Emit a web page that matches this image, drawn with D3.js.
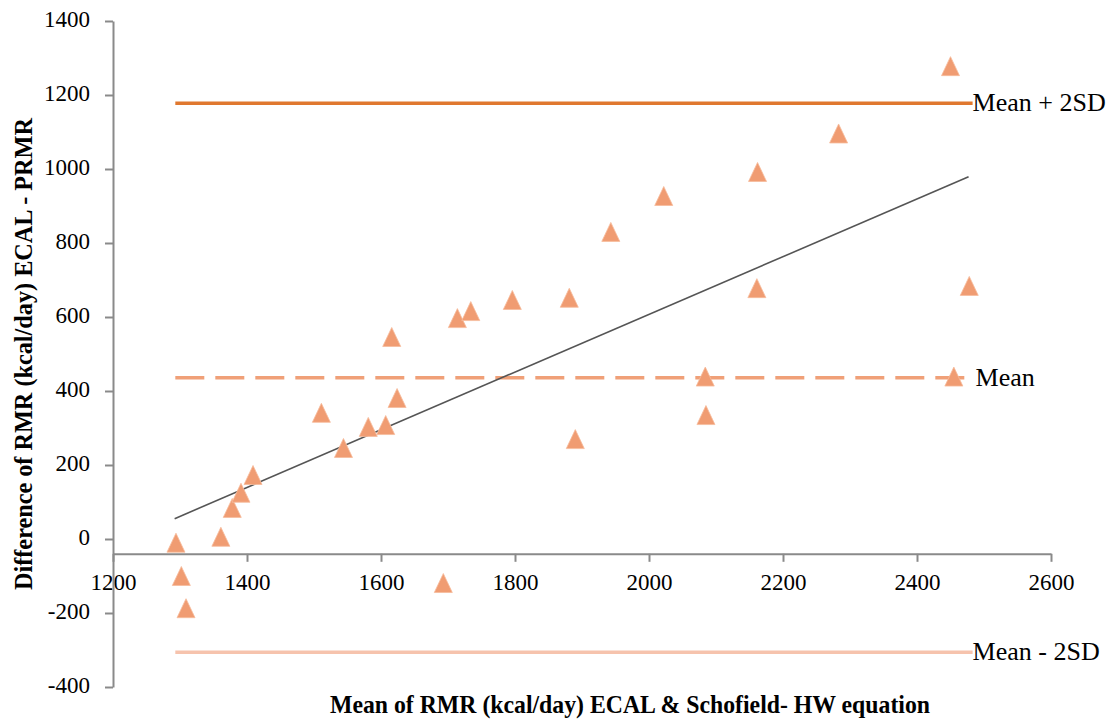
<!DOCTYPE html>
<html>
<head>
  <meta charset="utf-8">
  <title>Bland-Altman plot RMR</title>
  <script src="https://cdn.jsdelivr.net/npm/d3@7"></script>
  <style>
    body { margin: 0; background: #fff; font-family: "Liberation Serif", "Times New Roman", serif; }
    .axis path, .axis line { stroke: #8a8a8a; stroke-width: 2; }
    .axis text { fill: #000; }
    .ref-label { font-size: 26px; fill: #000; }
    .title { font-weight: bold; font-size: 25px; fill: #000; }
  </style>
</head>
<body>
  <div id="chart"></div>
  <script>
    // mean of the two methods (x) and their difference (y)
    const meanRMR = [1294, 1302, 1309, 1361, 1378, 1391, 1409, 1511, 1544, 1581,
                     1607, 1616, 1624, 1693, 1714, 1734, 1796, 1881, 1890, 1943,
                     2022, 2084, 2085, 2161, 2162, 2283, 2450, 2478, 2455];
    const diffRMR = [-10, -100, -187, 6, 84, 125, 173, 341, 246, 303,
                     308, 546, 381, -119, 597, 616, 646, 652, 270, 830,
                     927, 439, 335, 678, 992, 1096, 1278, 684, 439];

    const xTicks = [1200, 1400, 1600, 1800, 2000, 2200, 2400, 2600];
    const yTicks = [-400, -200, 0, 200, 400, 600, 800, 1000, 1200, 1400];

    const refLabels = ["Mean + 2SD", "Mean", "Mean - 2SD"];
    const refValues = [1178, 436, -306];
    const refSpan = [1293, 2483];

    const trendX = [1292, 2477];
    const trendY = [55, 979];

    const xAxisAt = -40; // horizontal axis crosses the y axis here

    const W = 1111, H = 722;
    const margin = {top: 21, right: 60, bottom: 35, left: 113};

    const svg = d3.select("#chart")
      .append("svg")
        .attr("width", W)
        .attr("height", H);

    const x = d3.scaleLinear()
      .domain([1200, 2600])
      .range([margin.left, W - margin.right]);

    const y = d3.scaleLinear()
      .domain([-400, 1400])
      .range([H - margin.bottom, margin.top]);

    const fmt = d => String(d); // plain hyphen, no thousands separator

    // axes
    svg.append("g")
      .attr("class", "axis")
      .attr("transform", `translate(0,${y(xAxisAt)})`)
      .call(d3.axisBottom(x).tickValues(xTicks).tickFormat(fmt)
        .tickSize(8).tickSizeOuter(0).tickPadding(12))
      .style("font-family", "Liberation Serif, serif")
      .style("font-size", "23px");

    svg.append("g")
      .attr("class", "axis")
      .attr("transform", `translate(${x(1200)},0)`)
      .call(d3.axisLeft(y).tickValues(yTicks).tickFormat(fmt)
        .tickSize(8).tickSizeOuter(0).tickPadding(15))
      .style("font-family", "Liberation Serif, serif")
      .style("font-size", "23px")
      .selectAll("text").attr("dy", "0.22em");

    // mean and limits of agreement
    const refColors = ["#e0782f", "#f0a078", "#f6c3ad"];
    const refDash = [null, "29,11", null];

    refValues.forEach((v, i) => {
      svg.append("line")
        .attr("x1", x(refSpan[0]))
        .attr("x2", x(refSpan[1]))
        .attr("y1", y(v))
        .attr("y2", y(v))
        .attr("stroke", refColors[i])
        .attr("stroke-width", 3.5)
        .attr("stroke-dasharray", refDash[i]);
    });

    // regression line
    const line = d3.line()
      .x(d => x(d[0]))
      .y(d => y(d[1]));

    svg.append("path")
      .datum(d3.zip(trendX, trendY))
      .attr("fill", "none")
      .attr("stroke", "#555")
      .attr("stroke-width", 1.6)
      .attr("d", line);

    // triangle markers, centred on their bounding box like Excel's
    const excelTriangle = {
      draw(ctx) {
        ctx.moveTo(0, -9.5);
        ctx.lineTo(9, 9.5);
        ctx.lineTo(-9, 9.5);
        ctx.closePath();
      }
    };

    svg.append("g")
      .selectAll("path")
      .data(d3.zip(meanRMR, diffRMR))
      .join("path")
        .attr("transform", d => `translate(${x(d[0])},${y(d[1])})`)
        .attr("d", d3.symbol(excelTriangle))
        .attr("fill", "#f09c72")
        .attr("stroke", "#f6bb9c")
        .attr("stroke-width", 0.8);

    // labels at the end of the reference lines
    svg.selectAll(".ref-label")
      .data(refLabels)
      .join("text")
        .attr("class", "ref-label")
        .attr("x", (d, i) => x(refSpan[1]) + (i === 1 ? 3 : 0))
        .attr("y", (d, i) => y(refValues[i]) + 8)
        .text(d => d);

    // axis titles
    svg.append("text")
      .attr("class", "title")
      .attr("x", 630)
      .attr("y", 713)
      .attr("text-anchor", "middle")
      .attr("textLength", 600)
      .attr("lengthAdjust", "spacingAndGlyphs")
      .text("Mean of RMR  (kcal/day) ECAL & Schofield- HW equation");

    svg.append("text")
      .attr("class", "title")
      .attr("transform", "translate(32,354) rotate(-90)")
      .attr("text-anchor", "middle")
      .attr("textLength", 472)
      .attr("lengthAdjust", "spacingAndGlyphs")
      .text("Difference of  RMR (kcal/day)  ECAL - PRMR");
  </script>
</body>
</html>
